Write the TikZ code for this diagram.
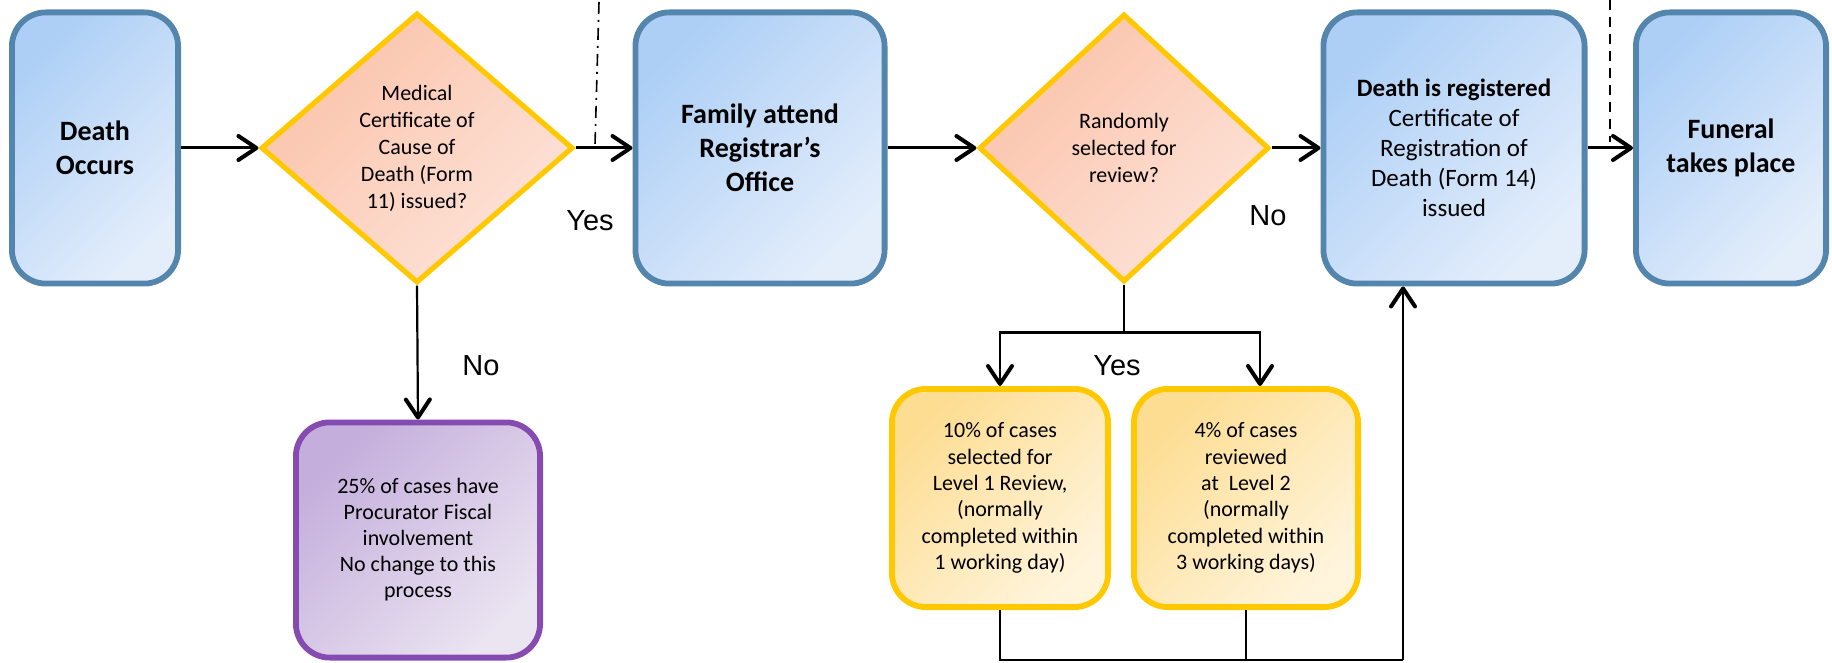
\documentclass[tikz,border=0pt]{standalone}
\usepackage{fontspec}
\setmainfont{Carlito}
\newfontfamily\arialfont{Liberation Sans}
\usetikzlibrary{arrows.meta,shapes.geometric}
\definecolor{bluebd}{HTML}{5485AC}
\definecolor{blueA}{HTML}{ADCFF6}
\definecolor{blueB}{HTML}{E4EEFB}
\definecolor{goldbd}{HTML}{FFC800}
\definecolor{salA}{HTML}{FBC3AA}
\definecolor{salB}{HTML}{FDE3D9}
\definecolor{purbd}{HTML}{864BB0}
\definecolor{purA}{HTML}{C4AEDC}
\definecolor{purB}{HTML}{EBE4F1}
\definecolor{yelA}{HTML}{FDDD92}
\definecolor{yelB}{HTML}{FFF4DC}
\begin{document}
\begin{tikzpicture}[x=0.5pt,y=-0.5pt,
  box/.style={rounded corners=17pt, line width=2.9pt, align=center, inner sep=2pt},
  bluebox/.style={box, draw=bluebd, top color=blueA, bottom color=blueB, shading angle=45, minimum height=135.6pt},
  purbox/.style={box, draw=purbd, top color=purA, bottom color=purB, shading angle=45, font=\fontsize{11}{13}\selectfont},
  yelbox/.style={box, draw=goldbd, top color=yelA, bottom color=yelB, shading angle=45, minimum height=109.1pt, font=\fontsize{11}{13.2}\selectfont},
  decision/.style={shape=diamond, draw=goldbd, line width=2.6pt, top color=salA, bottom color=salB, shading angle=45, inner sep=0pt, align=center, font=\fontsize{11}{13.5}\selectfont},
  big/.style={font=\fontsize{14}{17}\selectfont\bfseries},
  tip/.style={-{Straight Barb[length=9pt,width=12pt,line width=2pt,round]}},
  arr/.style={line width=1.5pt, tip},
  arrlow/.style={line width=1.1pt, tip},
  ln/.style={line width=1.1pt},
  lab/.style={font=\arialfont\fontsize{14.5}{17}\selectfont, inner sep=0pt}
]
\useasboundingbox (0,0) rectangle (1832,663);

\node[bluebox, minimum width=83.1pt, big] (b1) at (95,148) {Death\\Occurs};
\node[decision, minimum width=156pt, minimum height=135pt] (d1) at (417,148) {Medical\\Certificate of\\Cause of\\Death (Form\\11) issued?};
\node[bluebox, minimum width=124.6pt, big] (b2) at (760,148) {Family attend\\Registrar’s\\Office};
\node[decision, minimum width=145pt, minimum height=134pt] (d2) at (1124,148) {Randomly\\selected for\\review?};
\node[bluebox, minimum width=130.6pt, font=\fontsize{12.5}{15}\selectfont] (b3) at (1454,148) {\textbf{Death is registered}\\Certificate of\\Registration of\\Death (Form 14)\\issued};
\node[bluebox, minimum width=95.1pt, big] (b4) at (1731,148) {Funeral\\takes place};
\node[purbox, minimum width=122.1pt, minimum height=117.6pt] (p) at (418,540) {25\% of cases have\\Procurator Fiscal\\involvement\\No change to this\\process};
\node[yelbox, minimum width=108.1pt] (y1) at (1000,498) {10\% of cases\\selected for\\Level 1 Review,\\(normally\\completed within\\1 working day)};
\node[yelbox, minimum width=112.1pt] (y2) at (1246,498) {4\% of cases\\reviewed\\at\ \ Level 2\\(normally\\completed within\\3 working days)};

% main flow
\draw[arr] (b1.east) -- (d1.west);
\draw[arr] (d1.east) -- (b2.west);
\draw[arr] (b2.east) -- (d2.west);
\draw[arr] (d2.east) -- (b3.west);
\draw[arr] (b3.east) -- (b4.west);

% No branch
\draw[arrlow] (d1.south) -- (p.north);

% Yes branch
\path (d2.south) ++(0,48) coordinate (br);
\draw[ln] (d2.south) -- (br);
\draw[arrlow] (br) -| (y1.north);
\draw[arrlow] (br) -| ([xshift=7pt]y2.north);

% return
\coordinate (j) at (1403,660);
\draw[ln] (y1.south) |- (j);
\draw[ln] (y2.south) -- (y2.south |- j);
\draw[arrlow] (j) -- (j |- b3.south);

% labels
\node[lab] (yes1) at (590,221) {Yes};
\node[lab] (no1) at (1268,216) {No};
\node[lab] (no2) at (481,366) {No};
\node[lab] (yes2) at (1117,366) {Yes};

% separators
\coordinate (dd1) at (599,2);
\coordinate (dd2) at (595,145);
\draw[line width=0.8pt, dash pattern=on 6pt off 3pt on 1pt off 3pt] (dd1) -- (dd2);
\coordinate (ds1) at (1610,0);
\coordinate (ds2) at (1610,142);
\draw[line width=0.8pt, dash pattern=on 5pt off 3.5pt] (ds1) -- (ds2);
\end{tikzpicture}
\end{document}
